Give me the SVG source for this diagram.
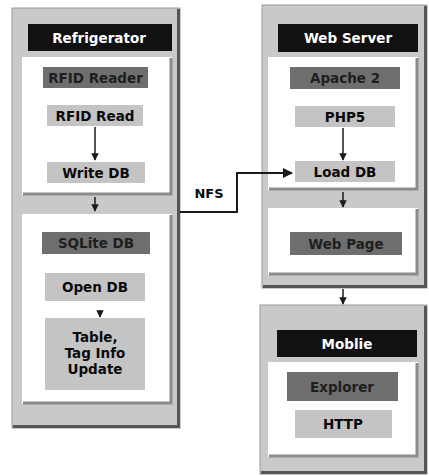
<svg xmlns="http://www.w3.org/2000/svg" width="429" height="476" viewBox="0 0 429 476">
<defs>
<marker id="ah" viewBox="0 0 10 10" refX="9" refY="5" markerWidth="5" markerHeight="5" orient="auto-start-reverse">
<path d="M0,0 L10,5 L0,10 z" fill="#1a1a1a"/>
</marker>
<style>
.panel{fill:#c9c9c9;stroke:#9a9a9a;stroke-width:1}
.shadow{fill:none;stroke:#555555;stroke-width:3}
.inner{fill:#ffffff}
.ishadow{fill:none;stroke:#8c8c8c;stroke-width:3}
.title{fill:#111111}
.dark{fill:#6e6e6e}
.light{fill:#c4c4c4}
.t{font-family:"DejaVu Sans",Verdana,sans-serif;font-weight:bold;font-size:13.5px;text-anchor:middle}
.tw{fill:#ffffff}
.td{fill:#1e1e1e}
.tb{fill:#0a0a0a}
.c{fill:none;stroke:#1a1a1a;stroke-width:2}
.cs{fill:none;stroke:#1a1a1a;stroke-width:1.5}
</style>
</defs>
<rect width="429" height="476" fill="#ffffff"/>

<g id="refrigerator">
<rect class="panel" x="12" y="8" width="168" height="420"/>
<path class="shadow" d="M178.5,9 V426.5 H13"/>
<rect class="title" x="28" y="24" width="144" height="27"/>
<text class="t tw" x="99" y="42.5">Refrigerator</text>
<rect class="inner" x="22" y="57" width="150" height="138"/>
<path class="ishadow" d="M171,58 V194 H23"/>
<rect class="inner" x="22" y="214" width="150" height="190"/>
<path class="ishadow" d="M171,215 V403 H23"/>
</g>
<g id="rfid-reader">
<rect class="dark" x="43" y="67" width="105" height="21"/>
<text class="t td" x="95.5" y="82.5">RFID Reader</text>
</g>
<g id="rfid-read">
<rect class="light" x="47" y="105" width="96" height="21"/>
<text class="t tb" x="95" y="120.5">RFID Read</text>
</g>
<g id="write-db">
<rect class="light" x="47" y="162" width="98" height="21"/>
<text class="t tb" x="96" y="177.5">Write DB</text>
</g>
<g id="sqlite-db">
<rect class="dark" x="42" y="232" width="108" height="22"/>
<text class="t td" x="96" y="248">SQLite DB</text>
</g>
<g id="open-db">
<rect class="light" x="45" y="273" width="100" height="28"/>
<text class="t tb" x="95" y="292">Open DB</text>
</g>
<g id="table-update">
<rect class="light" x="45" y="318" width="100" height="72"/>
<text class="t tb" x="95" y="342">Table,</text>
<text class="t tb" x="95" y="358">Tag Info</text>
<text class="t tb" x="95" y="374">Update</text>
</g>

<g id="web-server">
<rect class="panel" x="262" y="5" width="165" height="283"/>
<path class="shadow" d="M425.5,6 V286.5 H263"/>
<rect class="title" x="278" y="24" width="140" height="28"/>
<text class="t tw" x="348" y="43">Web Server</text>
<rect class="inner" x="268" y="57" width="150" height="133"/>
<path class="ishadow" d="M417,58 V189 H269"/>
<rect class="inner" x="268" y="208" width="150" height="67"/>
<path class="ishadow" d="M417,209 V274 H269"/>
</g>
<g id="apache">
<rect class="dark" x="290" y="67" width="110" height="22"/>
<text class="t td" x="345" y="83">Apache 2</text>
</g>
<g id="php5">
<rect class="light" x="295" y="106" width="100" height="21"/>
<text class="t tb" x="345" y="121.5">PHP5</text>
</g>
<g id="load-db">
<rect class="light" x="295" y="161" width="100" height="21"/>
<text class="t tb" x="345" y="176.5">Load DB</text>
</g>
<g id="web-page">
<rect class="dark" x="290" y="232" width="112" height="23"/>
<text class="t td" x="346" y="248.5">Web Page</text>
</g>

<g id="mobile">
<rect class="panel" x="260" y="305" width="167" height="169"/>
<path class="shadow" d="M425.5,306 V472.5 H261"/>
<rect class="title" x="277" y="330" width="140" height="27"/>
<text class="t tw" x="347" y="348.5">Moblie</text>
<rect class="inner" x="268" y="362" width="150" height="95"/>
<path class="ishadow" d="M417,363 V456 H269"/>
</g>
<g id="explorer">
<rect class="dark" x="287" y="372" width="111" height="29"/>
<text class="t td" x="342" y="391.5">Explorer</text>
</g>
<g id="http">
<rect class="light" x="295" y="410" width="97" height="28"/>
<text class="t tb" x="343" y="429">HTTP</text>
</g>

<g id="connectors">
<line class="cs" x1="95" y1="127" x2="95" y2="160" marker-end="url(#ah)"/>
<line class="cs" x1="95" y1="197" x2="95" y2="211" marker-end="url(#ah)"/>
<line class="cs" x1="100" y1="310" x2="100" y2="317" marker-end="url(#ah)"/>
<line class="cs" x1="343" y1="128" x2="343" y2="160" marker-end="url(#ah)"/>
<line class="cs" x1="343" y1="192" x2="343" y2="207" marker-end="url(#ah)"/>
<line class="cs" x1="343" y1="289" x2="343" y2="304" marker-end="url(#ah)"/>
<path class="c" d="M180,212 H237 V173 H292" marker-end="url(#ah)"/>
<text class="t tb" x="209" y="198" style="font-size:13px">NFS</text>
</g>
</svg>
